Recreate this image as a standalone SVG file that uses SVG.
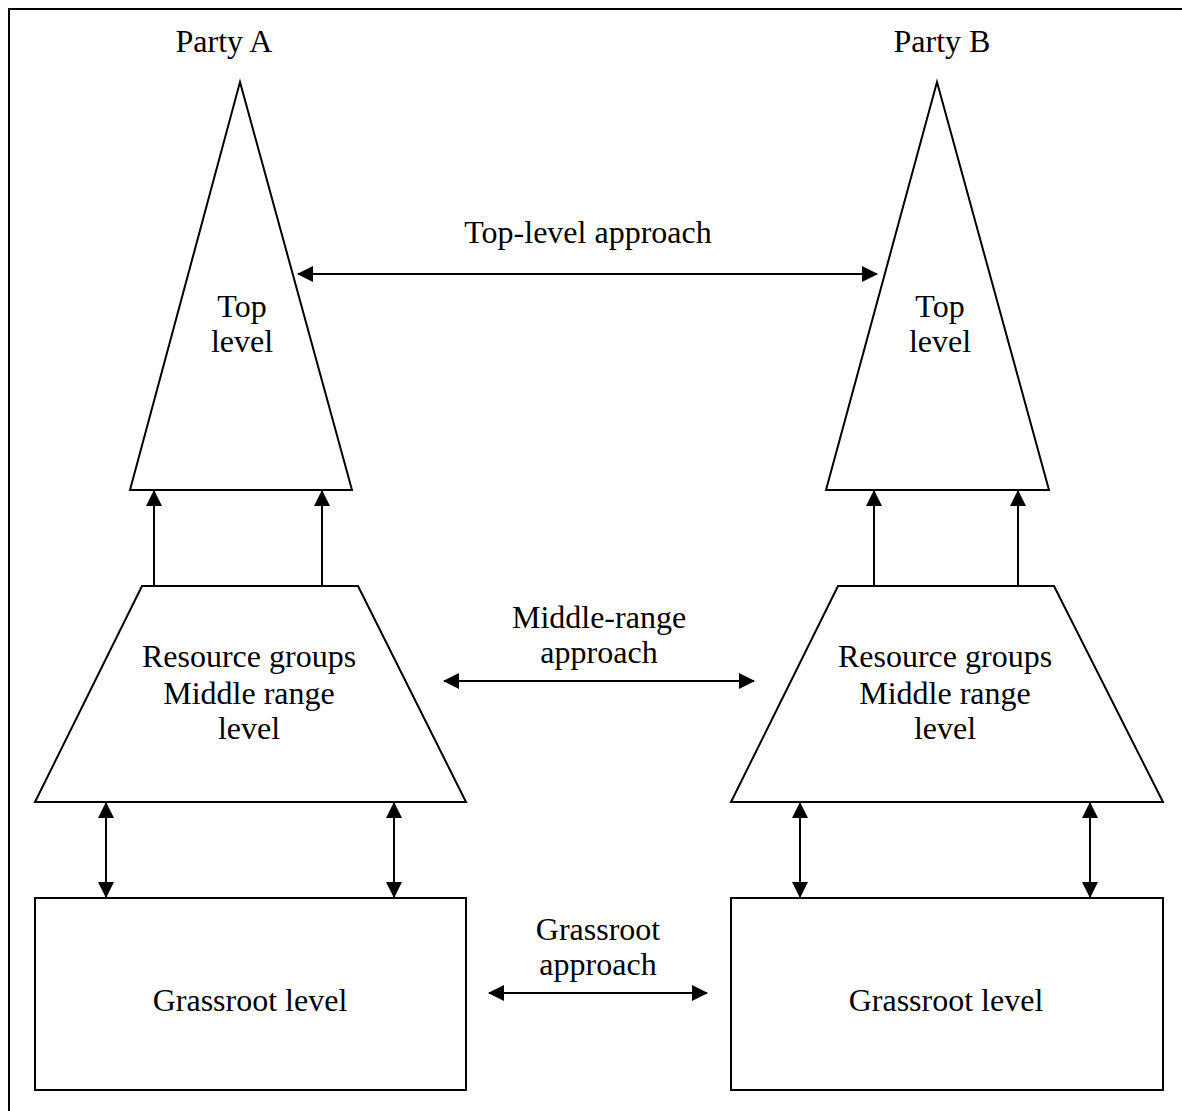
<svg xmlns="http://www.w3.org/2000/svg" width="1182" height="1111" viewBox="0 0 1182 1111">
<style>
.shape{fill:#fff;stroke:#000;stroke-width:2}
.lbl{font-family:"Liberation Serif","Times New Roman",serif;font-size:32px;fill:#000;text-anchor:middle}
.conn{stroke:#000;stroke-width:2;fill:none}
</style>
<defs>
<marker id="ah" markerWidth="16" markerHeight="16" refX="15" refY="8" orient="auto-start-reverse" markerUnits="userSpaceOnUse">
<path d="M0,0 L16,8 L0,16 Z" fill="#000"/>
</marker>
</defs>
<rect width="1182" height="1111" fill="#fff"/>
<g id="frame">
<path d="M9,1111 V9 H1182" fill="none" stroke="#000" stroke-width="2"/>
</g>
<g id="partyA-label"><text class="lbl" x="224" y="52">Party A</text></g>
<g id="partyB-label"><text class="lbl" x="942" y="52">Party B</text></g>
<g id="topA">
<polygon class="shape" points="240,82 352,490 130,490"/>
<text class="lbl" x="242" y="317">Top</text>
<text class="lbl" x="242" y="352">level</text>
</g>
<g id="topB">
<polygon class="shape" points="937,82 1049,490 826,490"/>
<text class="lbl" x="940" y="317">Top</text>
<text class="lbl" x="940" y="352">level</text>
</g>
<g id="midA">
<polygon class="shape" points="142,586 358,586 466,802 35,802"/>
<text class="lbl" x="249" y="667">Resource groups</text>
<text class="lbl" x="249" y="704">Middle range</text>
<text class="lbl" x="249" y="739">level</text>
</g>
<g id="midB">
<polygon class="shape" points="838,586 1054,586 1163,802 731,802"/>
<text class="lbl" x="945" y="667">Resource groups</text>
<text class="lbl" x="945" y="704">Middle range</text>
<text class="lbl" x="945" y="739">level</text>
</g>
<g id="grassA">
<rect class="shape" x="35" y="898" width="431" height="192"/>
<text class="lbl" x="250" y="1011">Grassroot level</text>
</g>
<g id="grassB">
<rect class="shape" x="731" y="898" width="432" height="192"/>
<text class="lbl" x="946" y="1011">Grassroot level</text>
</g>
<g id="approach-labels">
<text class="lbl" x="588" y="243">Top-level approach</text>
<text class="lbl" x="599" y="628">Middle-range</text>
<text class="lbl" x="599" y="663">approach</text>
<text class="lbl" x="598" y="940">Grassroot</text>
<text class="lbl" x="598" y="975">approach</text>
</g>
<g id="connectors">
<line class="conn" x1="154" y1="586" x2="154" y2="491" marker-end="url(#ah)"/>
<line class="conn" x1="322" y1="586" x2="322" y2="491" marker-end="url(#ah)"/>
<line class="conn" x1="874" y1="586" x2="874" y2="491" marker-end="url(#ah)"/>
<line class="conn" x1="1018" y1="586" x2="1018" y2="491" marker-end="url(#ah)"/>
<line class="conn" x1="106" y1="803" x2="106" y2="897" marker-start="url(#ah)" marker-end="url(#ah)"/>
<line class="conn" x1="394" y1="803" x2="394" y2="897" marker-start="url(#ah)" marker-end="url(#ah)"/>
<line class="conn" x1="800" y1="803" x2="800" y2="897" marker-start="url(#ah)" marker-end="url(#ah)"/>
<line class="conn" x1="1090" y1="803" x2="1090" y2="897" marker-start="url(#ah)" marker-end="url(#ah)"/>
<line class="conn" x1="298" y1="274" x2="877" y2="274" marker-start="url(#ah)" marker-end="url(#ah)"/>
<line class="conn" x1="444" y1="681" x2="754" y2="681" marker-start="url(#ah)" marker-end="url(#ah)"/>
<line class="conn" x1="489" y1="993" x2="707" y2="993" marker-start="url(#ah)" marker-end="url(#ah)"/>
</g>
</svg>
